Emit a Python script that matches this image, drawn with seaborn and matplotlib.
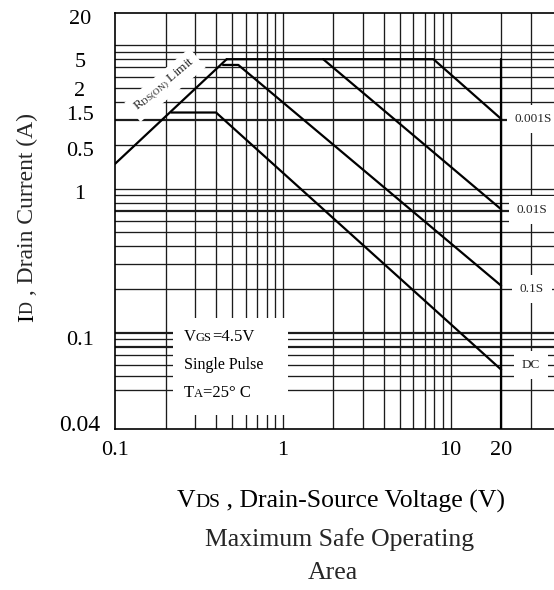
import matplotlib
matplotlib.use("Agg")
import matplotlib.pyplot as plt
from matplotlib.offsetbox import TextArea, HPacker, AnnotationBbox
from matplotlib.patches import Rectangle
from matplotlib.ticker import NullLocator
import seaborn as sns

# ---------------------------------------------------------------------------
# Safe operating area boundaries: V_DS (V) against I_D (A)
# ---------------------------------------------------------------------------
rds_limit_v = [0.1, 0.463]
rds_limit_i = [1.49, 7.96]

pulse_1ms_v = [0.463, 7.9, 20]
pulse_1ms_i = [7.96, 7.96, 3.06]

pulse_10ms_v = [1.74, 20]
pulse_10ms_i = [7.96, 0.72]

pulse_100ms_v = [0.44, 0.543, 20]
pulse_100ms_i = [7.26, 7.26, 0.212]

dc_v = [0.216, 0.40, 20]
dc_i = [3.39, 3.39, 0.0553]

v_max = 20
i_max = 7.96

curve_names = ["0.001S", "0.01S", "0.1S", "DC"]

# axis ticks as printed on the chart
x_ticks = [0.1, 1, 10, 20]
x_tick_labels = ["0.1", "1", "10", "20"]
y_ticks = [15.7, 7.9, 4.95, 3.37, 1.9, 0.95, 0.092, 0.0237]
y_tick_labels = ["20", "5", "2", "1.5", "0.5", "1", "0.1", "0.04"]

# log grid
x_grid = [0.2, 0.3, 0.4, 0.5, 0.6, 0.7, 0.8, 0.9, 1,
          2, 3, 4, 5, 6, 7, 8, 9, 10, 20, 30]
y_grid = [0.04, 0.05, 0.06, 0.07, 0.08, 0.09, 0.1,
          0.2, 0.3, 0.4, 0.5, 0.6, 0.7, 0.8, 0.9, 1,
          2, 3, 4, 5, 6, 7, 8, 9, 10]
y_grid_heavy = [0.08, 0.1, 0.7, 3]

x_lim = (0.1, 41.3)
y_lim = (0.02154, 16.81)

# ---------------------------------------------------------------------------
W, H, DPI = 554, 590, 100
sns.set_theme(style="white")
plt.rcParams["font.family"] = ["Liberation Serif", "DejaVu Serif"]
plt.rcParams["mathtext.fontset"] = "custom"
plt.rcParams["mathtext.rm"] = "Liberation Serif"
plt.rcParams["mathtext.it"] = "Liberation Serif:italic"
plt.rcParams["mathtext.bf"] = "Liberation Serif:bold"

fig = plt.figure(figsize=(W / DPI, H / DPI), dpi=DPI)
fig.patch.set_facecolor("white")


def fx(px):
    return px / W


def fy(py):
    return 1 - py / H


ax = fig.add_axes([fx(115), fy(428.5), 1 - fx(115), (428.5 - 12.5) / H])
ax.set_facecolor("white")
ax.set_xscale("log")
ax.set_yscale("log")
ax.set_xlim(*x_lim)
ax.set_ylim(*y_lim)

grid_col = "#1c1c1c"
for v in x_grid:
    ax.axvline(v, color=grid_col, lw=0.95, zorder=1)
for v in y_grid:
    ax.axhline(v, color=grid_col, lw=1.6 if v in y_grid_heavy else 0.95, zorder=1)

# blank panel behind the test-condition notes
ax.add_patch(Rectangle((0.1321, 0.0325), 0.262, 0.2331, transform=ax.transAxes,
                       fc="white", ec="none", zorder=2))

line_kw = dict(ax=ax, color="black", lw=1.6, estimator=None, sort=False,
               legend=False, zorder=3)
sns.lineplot(x=rds_limit_v, y=rds_limit_i, **line_kw)
sns.lineplot(x=pulse_1ms_v, y=pulse_1ms_i, **line_kw)
sns.lineplot(x=pulse_10ms_v, y=pulse_10ms_i, **line_kw)
sns.lineplot(x=pulse_100ms_v, y=pulse_100ms_i, **line_kw)
sns.lineplot(x=dc_v, y=dc_i, **line_kw)
sns.lineplot(x=[v_max, v_max], y=[i_max, y_lim[0]], **line_kw)

# axes frame
for side in ["left", "bottom", "top"]:
    ax.spines[side].set_visible(True)
    ax.spines[side].set_color("black")
    ax.spines[side].set_linewidth(1.2)
    ax.spines[side].set_zorder(4)
ax.spines["right"].set_visible(False)

ax.set_xticks(x_ticks, x_tick_labels)
ax.set_yticks(y_ticks, y_tick_labels)
ax.xaxis.set_minor_locator(NullLocator())
ax.yaxis.set_minor_locator(NullLocator())
ax.tick_params(axis="both", length=0, labelsize=16, colors="black")
ax.tick_params(axis="x", pad=9)
ax.tick_params(axis="y", pad=25.2)
for lbl in ax.get_yticklabels():
    lbl.set_horizontalalignment("center")
ax.get_yticklabels()[-1].set_fontsize(17)
ax.set_xlabel("")
ax.set_ylabel("")


def mixed_label(parts, x, y, align=(0.5, 0.5)):
    """Row of text pieces of different sizes sharing one baseline."""
    boxes = [TextArea(t, textprops=dict(fontsize=s, color="black")) for t, s in parts]
    row = HPacker(children=boxes, align="baseline", pad=0, sep=0)
    ab = AnnotationBbox(row, (fx(x), fy(y)), xycoords="figure fraction",
                        frameon=False, box_alignment=align, pad=0, zorder=6)
    fig.add_artist(ab)


# x axis title and chart caption
mixed_label([("V", 18.5), ("DS", 14), (" , Drain-Source Voltage (V)", 18.5)], 341, 501)
fig.text(fx(340), fy(540), "Maximum Safe Operating", fontsize=18.5,
         ha="center", va="center")
fig.text(fx(333), fy(573), "Area", fontsize=18.5, ha="center", va="center")

# y axis title, read bottom to top
t_i = ax.text(fx(38), fy(322), "I", transform=fig.transFigure, rotation=90,
              ha="right", va="bottom", fontsize=17, color="black")
t_d = ax.annotate("D", xy=(1, 1), xycoords=t_i, xytext=(-1.0, 0),
                  textcoords="offset points", rotation=90, ha="right",
                  va="bottom", fontsize=13, annotation_clip=False)
ax.annotate(" , Drain Current (A)", xy=(1, 1), xycoords=t_d, xytext=(1.0, 0),
            textcoords="offset points", rotation=90, ha="right", va="bottom",
            fontsize=17, annotation_clip=False)

# test conditions
mixed_label([("V", 12), ("GS", 9), ("=4.5V", 12)], 184, 337, align=(0, 0.5))
mixed_label([("Single Pulse", 11.5)], 184, 365, align=(0, 0.5))
mixed_label([("T", 12), ("A", 9), ("=25° C", 12)], 184, 393, align=(0, 0.5))

# pulse-width labels at the right edge
label_pos = [(533, 119), (532, 210), (532, 289), (531, 365)]
for name, (px, py) in zip(curve_names, label_pos):
    fig.text(fx(px), fy(py), name, fontsize=9.5, ha="center", va="center",
             zorder=6, bbox=dict(fc="white", ec="none", pad=5.5))

# on-resistance limit tag
fig.text(fx(165), fy(85), r"R$_{\mathregular{DS(ON)}}$ Limit", fontsize=9.5,
         rotation=40, ha="center", va="center", rotation_mode="anchor", zorder=6,
         bbox=dict(fc="white", ec="none", pad=3.5))

fig.savefig("out.png", dpi=DPI, facecolor="white")
